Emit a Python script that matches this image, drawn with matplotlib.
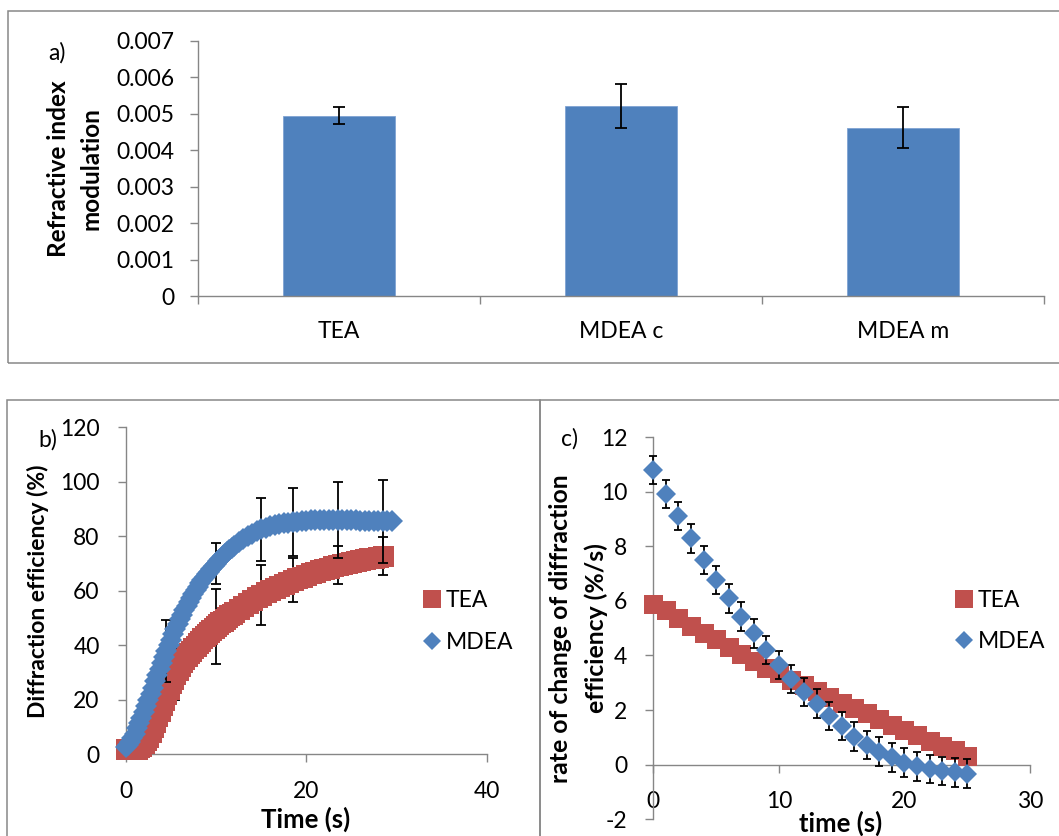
import matplotlib
matplotlib.use("Agg")
import matplotlib.pyplot as plt
from matplotlib.lines import Line2D
from matplotlib.patches import Rectangle
from matplotlib.ticker import FixedLocator, FuncFormatter

plt.rcParams['font.family'] = ['Lato', 'DejaVu Sans']
plt.rcParams['axes.unicode_minus'] = False

# ---------------- data ----------------
# panel a
cat_labels = ['TEA', 'MDEA c', 'MDEA m']
ri_mod = [0.00494, 0.00522, 0.00462]
ri_err = [0.00023, 0.00060, 0.00055]

# panel b : diffraction efficiency (%) vs time (s)
tea_t = [0, 0.25, 0.5, 0.75, 1, 1.25, 1.5, 1.75, 2, 2.25, 2.5, 2.75, 3, 3.25, 3.5, 3.75,
         4, 4.25, 4.5, 4.75, 5, 5.25, 5.5, 5.75, 6, 6.25, 6.5, 6.75, 7, 7.25, 7.5, 7.75,
         8, 8.25, 8.5, 8.75, 9, 9.25, 9.5, 9.75, 10, 10.25, 10.5, 10.75, 11, 11.25,
         11.5, 11.75, 12, 12.5, 13, 13.5, 14, 14.5, 15, 15.5, 16, 16.5, 17, 17.5, 18,
         18.5, 19, 19.5, 20, 20.5, 21, 21.5, 22, 22.5, 23, 23.5, 24, 24.5, 25, 25.5,
         26, 26.5, 27, 27.5, 28, 28.5]
tea_de = [2.0, 1.9, 1.8, 1.8, 1.8, 2.1, 2.5, 3.2, 4.0, 5.2, 6.5, 8.2, 10.0, 12.0, 14.0,
          16.0, 18.0, 20.0, 22.0, 24.0, 26.0, 27.8, 29.5, 31.0, 32.5, 33.8, 35.0, 36.0,
          37.0, 38.0, 39.0, 39.9, 40.8, 41.7, 42.5, 43.3, 44.0, 44.8, 45.5, 46.3, 47.0,
          47.7, 48.4, 49.1, 49.7, 50.4, 51.0, 51.6, 52.2, 53.4, 54.5, 55.6, 56.6, 57.6,
          58.5, 59.4, 60.2, 61.0, 61.8, 62.5, 63.2, 63.9, 64.6, 65.2, 65.8, 66.4, 67.0,
          67.5, 68.0, 68.5, 69.0, 69.4, 69.8, 70.2, 70.6, 71.0, 71.3, 71.6, 71.9, 72.2,
          72.5, 72.8]
mdea_t = [0, 0.25, 0.5, 0.75, 1, 1.25, 1.5, 1.75, 2, 2.25, 2.5, 2.75, 3, 3.25, 3.5, 3.75,
          4, 4.25, 4.5, 4.75, 5, 5.25, 5.5, 5.75, 6, 6.25, 6.5, 6.75, 7, 7.25, 7.5, 7.75,
          8, 8.25, 8.5, 8.75, 9, 9.25, 9.5, 9.75, 10, 10.25, 10.5, 10.75, 11, 11.25,
          11.5, 11.75, 12, 12.5, 13, 13.5, 14, 14.5, 15, 15.5, 16, 16.5, 17, 17.5, 18,
          18.5, 19, 19.5, 20, 20.5, 21, 21.5, 22, 22.5, 23, 23.5, 24, 24.5, 25, 25.5,
          26, 26.5, 27, 27.5, 28, 28.5, 29, 29.5]
mdea_de = [2.5, 3.4, 4.5, 5.9, 7.5, 9.5, 11.5, 13.5, 15.5, 17.7, 20.0, 22.2, 24.5, 26.8,
           29.0, 31.3, 33.5, 35.8, 38.0, 40.0, 42.0, 44.0, 46.0, 47.8, 49.5, 51.3, 53.0,
           54.5, 56.0, 57.5, 59.0, 60.3, 61.5, 62.8, 64.0, 65.0, 66.0, 67.0, 68.0, 69.0,
           70.0, 70.9, 71.8, 72.7, 73.5, 74.3, 75.0, 75.8, 76.5, 77.8, 79.0, 80.0, 81.0,
           81.8, 82.5, 83.1, 83.6, 84.0, 84.4, 84.7, 85.0, 85.2, 85.4, 85.6, 85.7, 85.8,
           85.9, 86.0, 86.0, 86.0, 86.0, 86.0, 85.9, 85.9, 85.8, 85.8, 85.7, 85.7, 85.6,
           85.6, 85.5, 85.5, 85.5, 85.5]
tea_bar_t = [5.5, 10, 15, 18.5, 23.5, 28.5]
tea_bar_de = [29.5, 47.0, 58.5, 63.9, 69.4, 72.8]
tea_bar_err = [9.5, 13.7, 11.0, 8.0, 7.0, 7.0]
mdea_bar_t = [4.5, 10, 15, 18.5, 23.5, 28.5]
mdea_bar_de = [38.0, 70.0, 82.5, 85.2, 86.0, 85.5]
mdea_bar_err = [11.3, 7.6, 11.5, 12.5, 13.8, 15.3]

# panel c : rate of change (%/s) vs time (s)
rate_t = [0, 1, 2, 3, 4, 5, 6, 7, 8, 9, 10, 11, 12, 13, 14, 15, 16, 17, 18, 19, 20,
          21, 22, 23, 24, 25]
tea_rate = [5.87, 5.66, 5.38, 5.08, 4.83, 4.59, 4.30, 4.04, 3.80, 3.55, 3.34, 3.10,
            2.91, 2.69, 2.47, 2.27, 2.08, 1.89, 1.67, 1.47, 1.26, 1.08, 0.86, 0.68,
            0.52, 0.33]
mdea_rate = [10.80, 9.91, 9.11, 8.29, 7.50, 6.76, 6.09, 5.42, 4.81, 4.20, 3.65, 3.13,
             2.67, 2.24, 1.79, 1.42, 1.03, 0.71, 0.48, 0.27, 0.08, -0.06, -0.15, -0.23,
             -0.28, -0.33]
mdea_rate_err = [0.52] * 26

# ---------------- styling ----------------
W, H, DPI = 1059, 836, 100
BLUE = '#4F81BD'
RED = '#C0504D'
GRAY = '#868686'
FS = 16.5
PX = 72.0 / DPI  # points per pixel

fig = plt.figure(figsize=(W / DPI, H / DPI), dpi=DPI)


def axrect(l, t, r, b):
    return [l / W, 1 - b / H, (r - l) / W, (b - t) / H]


def ftxt(x, y, s, **kw):
    fig.text(x / W, 1 - y / H, s, ha='center', va='center', **kw)


def style_axes(ax):
    for s in ['top', 'right']:
        ax.spines[s].set_visible(False)
    for s in ['left', 'bottom']:
        ax.spines[s].set_color(GRAY)
        ax.spines[s].set_linewidth(1.0)
    ax.tick_params(which='both', direction='out', color=GRAY, width=1.0,
                   length=8 * PX, labelsize=FS, pad=12.5)


# frames
for (l, t, r, b) in [(8, 11, 1070, 362.7), (7, 400, 540, 850), (540, 400, 1070, 850)]:
    fig.patches.append(Rectangle((l / W, 1 - b / H), (r - l) / W, (b - t) / H,
                                 transform=fig.transFigure, fill=False,
                                 edgecolor='#888888', linewidth=1.1, zorder=0))

# ---------------- panel a ----------------
axa = fig.add_axes(axrect(198, 40.7, 1044, 296))
xs = list(range(len(cat_labels)))
axa.bar(xs, ri_mod, width=0.397, color=BLUE, edgecolor='#7FA3D3', linewidth=0.6,
        zorder=2)
axa.errorbar(xs, ri_mod, yerr=ri_err, fmt='none', ecolor='black', elinewidth=1.3,
             capsize=6 * PX, capthick=1.3, zorder=3)
axa.set_xlim(-0.5, 2.5)
axa.set_ylim(0, 0.007)
axa.yaxis.set_major_locator(FixedLocator([0, 0.001, 0.002, 0.003, 0.004, 0.005,
                                          0.006, 0.007]))
axa.yaxis.set_major_formatter(FuncFormatter(lambda v, p: f"{v:.3f}" if v > 0 else "0"))
axa.xaxis.set_major_locator(FixedLocator([-0.5, 0.5, 1.5, 2.5]))
axa.xaxis.set_major_formatter(FuncFormatter(lambda v, p: ""))
axa.xaxis.set_minor_locator(FixedLocator(xs))
axa.set_xticklabels(cat_labels, minor=True)
style_axes(axa)
axa.tick_params(axis='y', pad=11.5)
axa.tick_params(axis='x', which='minor', length=0, pad=18)
ftxt(57, 53, 'a)', fontsize=FS)
ftxt(59, 168.5, 'Refractive index', fontsize=17.5, fontweight='bold', rotation=90)
ftxt(91.5, 168.5, 'modulation', fontsize=17.5, fontweight='bold', rotation=90)

# ---------------- panel b ----------------
axb = fig.add_axes(axrect(125.7, 427.3, 486.7, 754.3))
axb.errorbar(tea_bar_t, tea_bar_de, yerr=tea_bar_err, fmt='none', ecolor='black',
             elinewidth=1.3, capsize=3.6, capthick=1.3, zorder=2)
axb.plot(tea_t, tea_de, linestyle='none', marker='s', markersize=21 * PX,
         color=RED, markeredgewidth=0, zorder=3, clip_on=False)
axb.errorbar(mdea_bar_t, mdea_bar_de, yerr=mdea_bar_err, fmt='none', ecolor='black',
             elinewidth=1.3, capsize=3.6, capthick=1.3, zorder=4)
axb.plot(mdea_t, mdea_de, linestyle='none', marker='D', markersize=15.5 * PX,
         color=BLUE, markeredgewidth=0, zorder=5, clip_on=False)
axb.set_xlim(0, 40)
axb.set_ylim(0, 120)
axb.set_xticks([0, 20, 40])
axb.set_yticks([0, 20, 40, 60, 80, 100, 120])
style_axes(axb)
axb.tick_params(axis='y', pad=13)
axb.tick_params(axis='x', pad=13.5)
ftxt(48, 440, 'b)', fontsize=FS)
ftxt(38, 591, 'Diffraction efficiency (%)', fontsize=16.5, fontweight='bold', rotation=90)
ftxt(306, 819, 'Time (s)', fontsize=18.5, fontweight='bold')
hb = [Line2D([], [], linestyle='none', marker='s', markersize=17.7 * PX, color=RED,
             markeredgewidth=0),
      Line2D([], [], linestyle='none', marker='D', markersize=12.8 * PX, color=BLUE,
             markeredgewidth=0)]
axb.legend(hb, ['TEA', 'MDEA'], loc='center left',
           bbox_to_anchor=(422.7 / W, 1 - 621.5 / H), bbox_transform=fig.transFigure,
           frameon=False, borderpad=0, borderaxespad=0, handlelength=0.8,
           handletextpad=0.2, labelspacing=0.9, fontsize=FS)

# ---------------- panel c ----------------
axc = fig.add_axes(axrect(653.3, 437, 1030, 819.3))
axc.plot(rate_t, tea_rate, linestyle='none', marker='s', markersize=19 * PX,
         color=RED, markeredgewidth=0, zorder=3, clip_on=False)
axc.errorbar(rate_t, mdea_rate, yerr=mdea_rate_err, fmt='none', ecolor='black',
             elinewidth=1.3, capsize=3.0, capthick=1.3, zorder=4, clip_on=False)
axc.plot(rate_t, mdea_rate, linestyle='none', marker='D', markersize=13.5 * PX,
         color=BLUE, markeredgewidth=0, zorder=5, clip_on=False)
axc.set_xlim(0, 30)
axc.set_ylim(-2, 12)
axc.set_xticks([0, 10, 20, 30])
axc.set_yticks([-2, 0, 2, 4, 6, 8, 10, 12])
style_axes(axc)
axc.spines['bottom'].set_position(('data', 0))
axc.tick_params(axis='y', pad=13)
axc.tick_params(axis='x', pad=13.5)
ftxt(570, 439, 'c)', fontsize=FS)
ftxt(561, 629, 'rate of change of diffraction', fontsize=17.8, fontweight='bold',
     rotation=90)
ftxt(596, 628, 'efficiency (%/s)', fontsize=17.8, fontweight='bold', rotation=90)
ftxt(841, 823, 'time (s)', fontsize=18.5, fontweight='bold')
hc = [Line2D([], [], linestyle='none', marker='s', markersize=17.7 * PX, color=RED,
             markeredgewidth=0),
      Line2D([], [], linestyle='none', marker='D', markersize=12.8 * PX, color=BLUE,
             markeredgewidth=0)]
axc.legend(hc, ['TEA', 'MDEA'], loc='center left',
           bbox_to_anchor=(954.7 / W, 1 - 621 / H), bbox_transform=fig.transFigure,
           frameon=False, borderpad=0, borderaxespad=0, handlelength=0.8,
           handletextpad=0.2, labelspacing=0.9, fontsize=FS)

fig.savefig('out.png', dpi=DPI)
